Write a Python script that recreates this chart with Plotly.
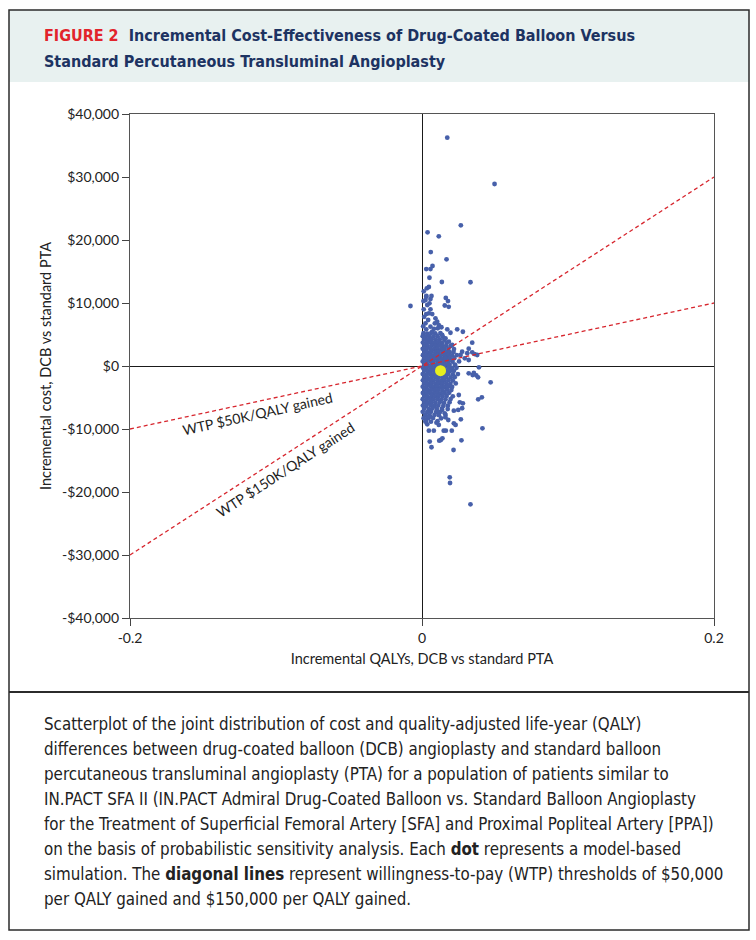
import plotly.graph_objects as go

# ---------------- data ----------------
# Incremental QALYs (x) and incremental cost in $ (y) of PSA simulations
core_points = [
    (0.0010, 5200), (0.0036, 5150), (0.0064, 5260), (0.0091, 5180), (0.0126, 5230),
    (0.0005, 4720), (0.0026, 4660), (0.0051, 4750), (0.0079, 4690), (0.0107, 4740), (0.0142, 4650),
    (0.0015, 4230), (0.0041, 4170), (0.0066, 4250), (0.0094, 4190), (0.0121, 4220), (0.0153, 4160),
    (0.0006, 3720), (0.0031, 3680), (0.0055, 3750), (0.0082, 3690), (0.0109, 3730), (0.0136, 3670), (0.0168, 3710),
    (0.0016, 3230), (0.0039, 3170), (0.0066, 3240), (0.0091, 3190), (0.0116, 3220), (0.0141, 3160), (0.0166, 3250), (0.0196, 3180),
    (0.0005, 2720), (0.0029, 2680), (0.0056, 2740), (0.0081, 2690), (0.0104, 2730), (0.0131, 2660), (0.0154, 2710), (0.0181, 2750), (0.0219, 2680),
    (0.0016, 2230), (0.0040, 2170), (0.0064, 2240), (0.0091, 2190), (0.0114, 2220), (0.0141, 2160), (0.0166, 2250), (0.0189, 2190), (0.0216, 2230),
    (0.0006, 1720), (0.0031, 1680), (0.0054, 1740), (0.0081, 1690), (0.0106, 1730), (0.0129, 1670), (0.0156, 1710), (0.0179, 1750), (0.0206, 1680), (0.0238, 1720),
    (0.0015, 1230), (0.0041, 1170), (0.0066, 1240), (0.0089, 1190), (0.0116, 1220), (0.0139, 1160), (0.0164, 1250), (0.0191, 1190), (0.0221, 1230),
    (0.0005, 720), (0.0031, 680), (0.0056, 740), (0.0079, 690), (0.0106, 730), (0.0131, 670), (0.0154, 710), (0.0181, 750), (0.0209, 680), (0.0254, 720),
    (0.0016, 230), (0.0039, 170), (0.0066, 240), (0.0091, 190), (0.0114, 220), (0.0141, 160), (0.0166, 250), (0.0189, 190), (0.0226, 230),
    (0.0006, -280), (0.0029, -320), (0.0056, -260), (0.0081, -310), (0.0104, -270), (0.0131, -330), (0.0154, -290), (0.0181, -250), (0.0206, -320), (0.0236, -280),
    (0.0015, -770), (0.0041, -830), (0.0064, -760), (0.0089, -810), (0.0116, -780), (0.0141, -840), (0.0164, -750), (0.0191, -810), (0.0219, -770),
    (0.0005, -1280), (0.0031, -1320), (0.0054, -1260), (0.0081, -1310), (0.0106, -1270), (0.0129, -1330), (0.0156, -1290), (0.0179, -1250), (0.0211, -1320), (0.0246, -1280),
    (0.0016, -1770), (0.0039, -1830), (0.0066, -1760), (0.0091, -1810), (0.0114, -1780), (0.0141, -1840), (0.0166, -1750), (0.0196, -1810), (0.0224, -1770),
    (0.0006, -2280), (0.0031, -2320), (0.0056, -2260), (0.0079, -2310), (0.0106, -2270), (0.0131, -2330), (0.0154, -2290), (0.0181, -2250), (0.0211, -2320),
    (0.0015, -2770), (0.0041, -2830), (0.0064, -2760), (0.0091, -2810), (0.0116, -2780), (0.0139, -2840), (0.0166, -2750), (0.0194, -2810), (0.0231, -2770),
    (0.0005, -3280), (0.0029, -3320), (0.0056, -3260), (0.0081, -3310), (0.0104, -3270), (0.0131, -3330), (0.0156, -3290), (0.0179, -3250), (0.0206, -3320),
    (0.0016, -3770), (0.0041, -3830), (0.0066, -3760), (0.0089, -3810), (0.0114, -3780), (0.0141, -3840), (0.0171, -3750), (0.0201, -3810),
    (0.0006, -4280), (0.0031, -4320), (0.0054, -4260), (0.0081, -4310), (0.0106, -4270), (0.0129, -4330), (0.0156, -4290), (0.0186, -4250),
    (0.0015, -4770), (0.0039, -4830), (0.0066, -4760), (0.0091, -4810), (0.0114, -4780), (0.0141, -4840), (0.0169, -4750), (0.0211, -4810),
    (0.0005, -5280), (0.0031, -5320), (0.0056, -5260), (0.0079, -5310), (0.0106, -5270), (0.0131, -5330), (0.0161, -5290), (0.0196, -5250),
    (0.0016, -5770), (0.0041, -5830), (0.0064, -5760), (0.0091, -5810), (0.0121, -5780), (0.0151, -5840), (0.0189, -5750),
    (0.0006, -6280), (0.0031, -6320), (0.0061, -6260), (0.0086, -6310), (0.0111, -6270), (0.0146, -6330),
    (0.0015, -6770), (0.0046, -6830), (0.0071, -6760), (0.0101, -6810), (0.0136, -6780), (0.0176, -6840),
    (0.0005, -7280), (0.0036, -7320), (0.0061, -7260), (0.0096, -7310), (0.0126, -7270),
    (0.0021, -7770), (0.0051, -7830), (0.0086, -7760), (0.0116, -7810), (0.0161, -7780),
    (0.0011, -8280), (0.0041, -8320), (0.0076, -8260), (0.0131, -8310),
    (0.0026, -8770), (0.0061, -8830), (0.0106, -8760),
]

upper_points = [
    (0.0012, 11850), (0.0029, 10990), (0.0058, 10630), (0.0024, 10470), (0.0036, 9680),
    (0.0051, 9950), (0.0012, 9000), (0.0058, 9000), (0.0047, 8360), (0.0029, 8250),
    (0.0070, 8250), (0.0092, 7570), (0.0042, 7300), (0.0104, 7030), (0.0024, 6780),
    (0.0088, 6780), (0.0115, 6500), (0.0058, 6240), (0.0108, 5980), (0.0029, 5820),
    (0.0070, 5440), (0.0173, 5820), (0.0195, 5280), (0.0241, 5820), (0.0280, 5440),
    (0.0138, 4920), (0.0161, 4400), (0.0184, 3860), (0.0207, 3330), (0.0015, 7800),
    (0.0008, 6300), (0.0082, 5900), (0.0133, 6150), (0.0010, 10300), (0.0163, 10800),
    (0.0178, 10300), (0.0156, 9600), (0.0183, 9400), (0.0047, 12540), (0.0033, 12330),
    (0.0030, 11110), (0.0065, 11110), (0.0029, 15390), (0.0058, 15390), (0.0072, 15870),
    (0.0051, 14010), (0.0060, 18090), (0.0136, 13330), (0.0168, 16930), (0.0038, 21220),
    (0.0115, 20590),
]

side_points = [
    (0.0344, 3700), (0.0320, 2750), (0.0344, 2170), (0.0360, 1900), (0.0275, 2270),
    (0.0310, 2020), (0.0264, 1750), (0.0320, 950), (0.0293, 1220), (0.0378, 1750),
    (0.0390, -210), (0.0320, -1160), (0.0347, -1430), (0.0372, -1480), (0.0384, -1800),
    (0.0355, -1100), (0.0385, -5290), (0.0410, -4970), (0.0252, -4600), (0.0280, -5920),
    (0.0259, -5760), (0.0275, -6710), (0.0248, -6980), (0.0218, -7090), (0.0266, -8460),
    (0.0218, -9100), (0.0230, -9360), (0.0180, -8570), (0.0160, -8140), (0.0115, -9360),
    (0.0099, -9000), (0.0036, -9260), (0.0024, -8840), (0.0177, -6300), (0.0156, -7510),
    (0.0138, -6980), (0.0104, -7250), (0.0058, -8050), (0.0036, -8050),
]

lower_points = [
    (0.0053, -12000), (0.0065, -12900), (0.0129, -11750), (0.0140, -11480), (0.0118, -11850),
    (0.0047, -10270), (0.0081, -10270), (0.0149, -10270), (0.0163, -10270), (0.0204, -10270),
]

outlier_points = [
    (0.0173, 36240), (0.0497, 28890), (0.0266, 22330), (0.0332, 13290), (-0.0079, 9520),
    (0.0470, -2590), (0.0414, -9900), (0.0270, -11800), (0.0216, -13330), (0.0190, -17670),
    (0.0192, -18570), (0.0332, -21950),
]

mean_point = (0.0127, -740)

wtp_thresholds = [50000, 150000]           # $ per QALY gained
wtp_labels = ["WTP $50K/QALY gained", "WTP $150K/QALY gained"]

x_range = [-0.2, 0.2]
y_range = [-40000, 40000]
x_ticks = [-0.2, 0, 0.2]
x_ticktext = ["-0.2", "0", "0.2"]
y_ticks = [40000, 30000, 20000, 10000, 0, -10000, -20000, -30000, -40000]

title_tag = "FIGURE 2"
title_line1 = "Incremental Cost-Effectiveness of Drug-Coated Balloon Versus"
title_line2 = "Standard Percutaneous Transluminal Angioplasty"

caption_lines = [
    "Scatterplot of the joint distribution of cost and quality-adjusted life-year (QALY)",
    "differences between drug-coated balloon (DCB) angioplasty and standard balloon",
    "percutaneous transluminal angioplasty (PTA) for a population of patients similar to",
    "IN.PACT SFA II (IN.PACT Admiral Drug-Coated Balloon vs. Standard Balloon Angioplasty",
    "for the Treatment of Superficial Femoral Artery [SFA] and Proximal Popliteal Artery [PPA])",
    "on the basis of probabilistic sensitivity analysis. Each <b>dot</b> represents a model-based",
    "simulation. The <b>diagonal lines</b> represent willingness-to-pay (WTP) thresholds of $50,000",
    "per QALY gained and $150,000 per QALY gained.",
]

# ---------------- layout helpers ----------------
W, H = 756, 940


def fx(px):
    return px / W


def fy(py):
    return 1 - py / H


def money(v):
    return ("-$" if v < 0 else "$") + f"{abs(v):,.0f}"


TICK_FONT = "Lato, 'Open Sans', sans-serif"
TEXT_FONT = "'Liberation Sans Narrow', 'DejaVu Sans Condensed', 'Liberation Sans', sans-serif"
BLUE = "#4760aa"
RED = "#d7262e"

all_points = core_points + upper_points + side_points + lower_points + outlier_points

fig = go.Figure()

fig.add_trace(go.Scatter(
    x=[p[0] for p in all_points], y=[p[1] for p in all_points],
    mode="markers", marker=dict(size=4.8, color=BLUE, line=dict(width=0)),
    showlegend=False, hoverinfo="skip",
))

for wtp in wtp_thresholds:
    fig.add_trace(go.Scatter(
        x=x_range, y=[wtp * x_range[0], wtp * x_range[1]],
        mode="lines", line=dict(color=RED, width=1.3, dash="4px,3px"),
        showlegend=False, hoverinfo="skip",
    ))

fig.add_trace(go.Scatter(
    x=[mean_point[0]], y=[mean_point[1]], mode="markers",
    marker=dict(size=11, color="#e6ee1e", line=dict(width=0)),
    showlegend=False, hoverinfo="skip",
))

fig.update_layout(
    width=W, height=H, margin=dict(l=0, r=0, t=0, b=0),
    paper_bgcolor="white", plot_bgcolor="white",
    font=dict(family=TICK_FONT, color="#222"),
    xaxis=dict(
        domain=[fx(130), fx(714)], range=x_range, tickvals=x_ticks, ticktext=x_ticktext,
        showgrid=False, zeroline=True, zerolinecolor="#1a1a1a", zerolinewidth=1.3,
        showline=True, linecolor="#555", linewidth=1.3, mirror=True,
        ticks="outside", ticklen=7, tickcolor="#444", tickwidth=1,
        tickfont=dict(size=14, family=TICK_FONT, color="#222"),
        title=dict(text="Incremental QALYs, DCB vs standard PTA", standoff=8,
                   font=dict(size=14.5, family=TICK_FONT, color="#222")),
        automargin=False, fixedrange=True,
    ),
    yaxis=dict(
        domain=[fy(618), fy(114)], range=y_range, tickvals=y_ticks,
        ticktext=[money(v) for v in y_ticks],
        showgrid=False, zeroline=True, zerolinecolor="#1a1a1a", zerolinewidth=1.3,
        showline=True, linecolor="#555", linewidth=1.3, mirror=True,
        ticks="outside", ticklen=7, tickcolor="#444", tickwidth=1,
        tickfont=dict(size=14, family=TICK_FONT, color="#222"),
        title=dict(text="Incremental cost, DCB vs standard PTA", standoff=6,
                   font=dict(size=14.5, family=TICK_FONT, color="#222")),
        automargin=False, fixedrange=True,
    ),
)

# frame, header band, separator
fig.add_shape(type="rect", xref="paper", yref="paper", x0=fx(9), x1=fx(749), y0=fy(82), y1=fy(10),
              fillcolor="#e8f1f0", line=dict(width=0), layer="below")
fig.add_shape(type="rect", xref="paper", yref="paper", x0=fx(9), x1=fx(749), y0=fy(930), y1=fy(10),
              line=dict(color="#2b2b2b", width=1.5), fillcolor="rgba(0,0,0,0)")
fig.add_shape(type="line", xref="paper", yref="paper", x0=fx(9), x1=fx(749), y0=fy(692), y1=fy(692),
              line=dict(color="#2b2b2b", width=2))

# title
fig.add_annotation(
    xref="paper", yref="paper", x=fx(42), y=fy(35), xanchor="left", yanchor="middle", showarrow=False,
    text=f"<b><span style='color:#e2242b'>{title_tag}</span>  {title_line1}</b>",
    font=dict(size=16, family=TEXT_FONT, color="#1d3362"),
)
fig.add_annotation(
    xref="paper", yref="paper", x=fx(42), y=fy(61), xanchor="left", yanchor="middle", showarrow=False,
    text=f"<b>{title_line2}</b>",
    font=dict(size=16, family=TEXT_FONT, color="#1d3362"),
)

# WTP line labels (placed in data coordinates)
fig.add_annotation(x=-0.1127, y=-7460, text=wtp_labels[0], showarrow=False, textangle=-12.5,
                   font=dict(size=14, family=TICK_FONT, color="#222"))
fig.add_annotation(x=-0.0935, y=-16500, text=wtp_labels[1], showarrow=False, textangle=-33,
                   font=dict(size=14, family=TICK_FONT, color="#222"))

# caption
for i, line in enumerate(caption_lines):
    fig.add_annotation(
        xref="paper", yref="paper", x=fx(42), y=fy(724 + 25 * i), xanchor="left", yanchor="middle",
        showarrow=False, text=line, font=dict(size=16.8, family=TEXT_FONT, color="#222"),
    )

fig.write_html("out.html", config={"displayModeBar": False},
               post_script="document.body.style.margin='0px';")
